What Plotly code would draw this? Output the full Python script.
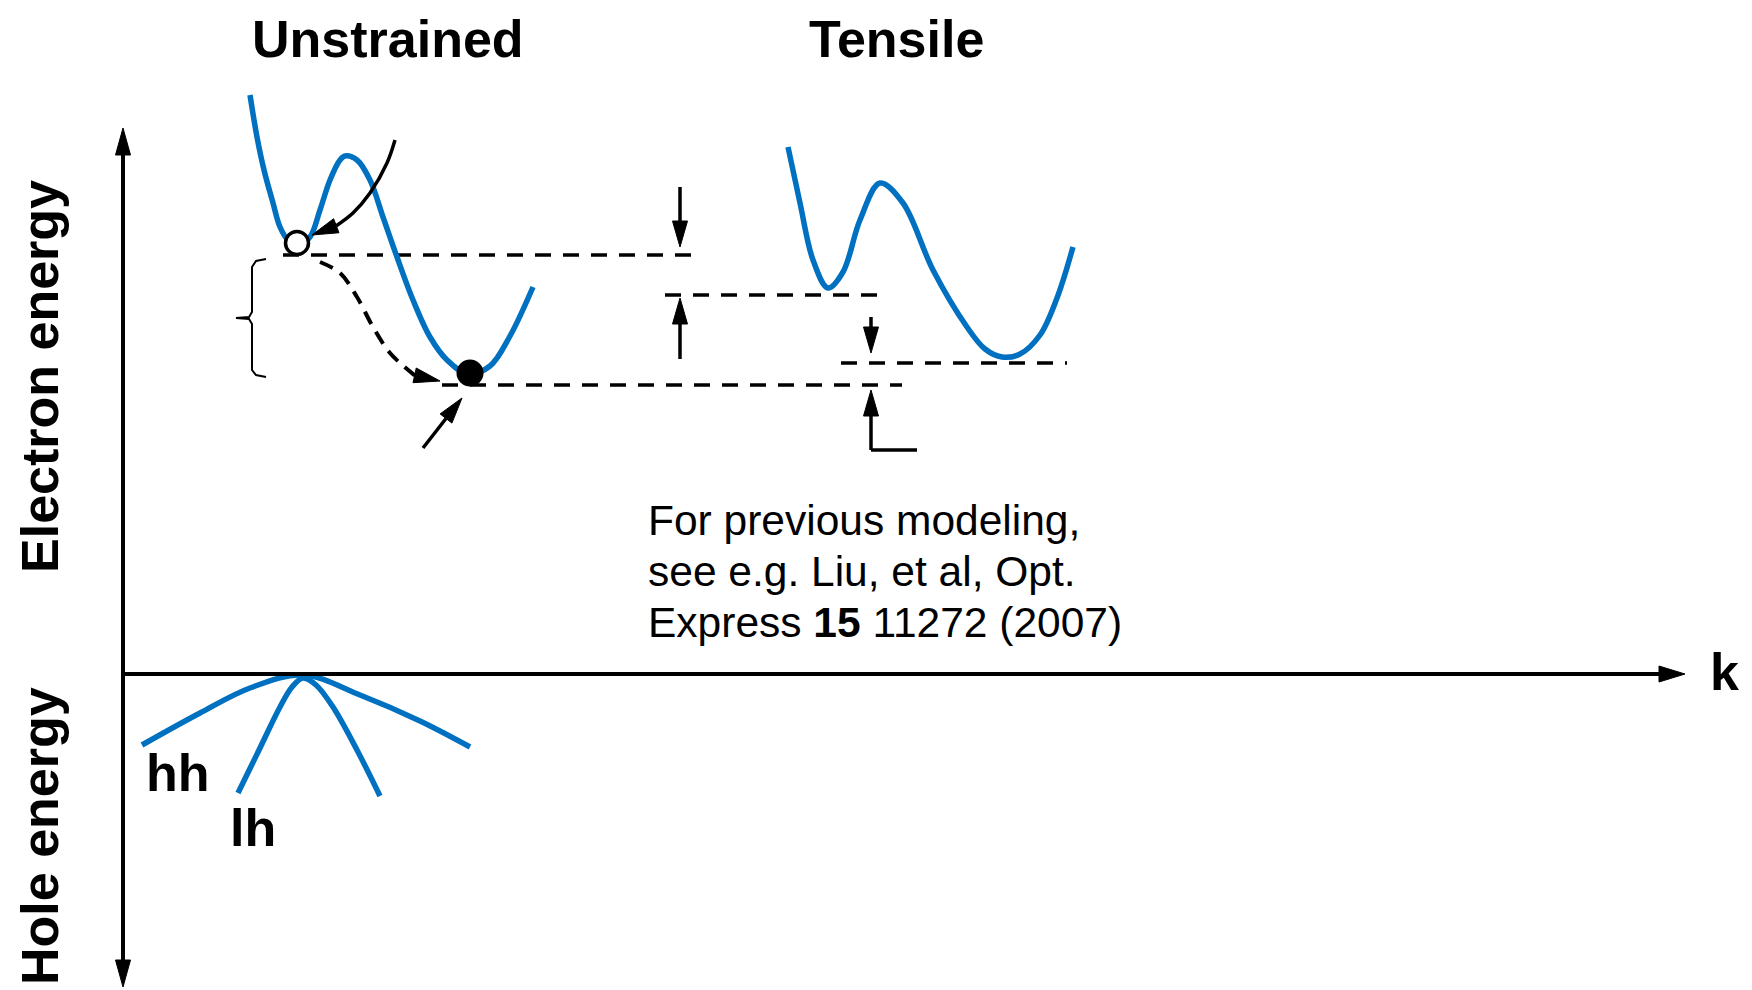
import numpy as np
import plotly.graph_objects as go

W, H = 1752, 990
PAD = 8  # the page body keeps an 8px margin, so the plot starts at (8, 8)
BLUE = "#0070c0"
FONT = "Liberation Sans, Arial, Helvetica, sans-serif"

# everything is in page pixels: x to the right, y downwards

# conduction band, unstrained
cb_unstr_x = [250, 257, 264, 273, 280, 288, 298, 310, 320, 330, 340, 345, 357, 370, 383, 397, 413, 430, 447, 468, 490, 510, 533]
cb_unstr_y = [95, 137, 170, 203, 227, 240, 245, 237, 210, 180, 160, 156, 160, 180, 217, 257, 300, 337, 360, 374, 366, 336, 287]

# conduction band, tensile
cb_tens_x = [788, 800, 813, 828, 843, 860, 880, 903, 933, 967, 985, 1002, 1020, 1040, 1057, 1073]
cb_tens_y = [147, 203, 260, 288, 272, 220, 183, 203, 270, 327, 349, 357, 354, 335, 298, 247]

# valence bands
hh_x = [142, 200, 250, 303, 360, 420, 470]
hh_y = [745, 713, 688, 675, 695, 721, 747]
lh_x = [238, 259, 280, 292, 303, 316, 333, 357, 380]
lh_y = [793, 750, 707, 687, 678, 685, 707, 750, 796]

# dashed energy levels
lvl_x0 = [283, 442, 665, 841]
lvl_x1 = [691, 902, 888, 1067]
lvl_y = [255, 385, 295, 363]

# straight arrows, tail -> tip
arr_x0 = [680, 680, 871, 871, 423]
arr_y0 = [187, 359, 317, 450, 448]
arr_x1 = [680, 680, 871, 871, 462]
arr_y1 = [247, 298, 353, 390, 398]

# foot of the lowest arrow
foot_x = [871, 917]
foot_y = [450, 450]

# curved arrows
curve_solid_x = [395, 387, 370, 353, 333, 312]
curve_solid_y = [140, 163, 193, 213, 227, 235]
curve_dash_x = [320, 340, 357, 373, 390, 413, 440]
curve_dash_y = [262, 273, 297, 327, 353, 375, 381]

# brace
brace_x = [266, 256, 252, 252, 249, 236, 249, 252, 252, 256, 266]
brace_y = [259, 261, 267, 312, 317, 318, 319, 324, 370, 375, 377]

# valleys (empty / filled electron)
empty_x, empty_y = [297], [243]
full_x, full_y = [470], [373]

# axes
vaxis_x = [123, 123]
vaxis_y = [987, 128]
haxis_x = [123, 1685]
haxis_y = [674, 674]

fig = go.Figure()


def line(x, y, color="black", width=3.5, dash=None, shape="linear"):
    fig.add_trace(go.Scatter(x=x, y=y, mode="lines", hoverinfo="skip",
                             line=dict(color=color, width=width, dash=dash, shape=shape)))


def head(x0, y0, x1, y1, length=26, half=7.5):
    d = np.hypot(x1 - x0, y1 - y0)
    ux, uy = (x1 - x0) / d, (y1 - y0) / d
    bx, by = x1 - ux * length, y1 - uy * length
    px, py = -uy * half, ux * half
    fig.add_trace(go.Scatter(x=[x1, bx + px, bx - px, x1], y=[y1, by + py, by - py, y1],
                             mode="lines", fill="toself", fillcolor="black",
                             line=dict(color="black", width=1), hoverinfo="skip"))
    return bx, by


def curved_arrow(xs, ys, dash=None, length=26, width=3.5):
    bx, by = head(xs[-2], ys[-2], xs[-1], ys[-1], length)
    keep = [(x, y) for x, y in zip(xs[:-1], ys[:-1]) if np.hypot(x - xs[-1], y - ys[-1]) > length + 4]
    px = [p[0] for p in keep] + [bx]
    py = [p[1] for p in keep] + [by]
    line(px, py, width=width, dash=dash, shape="spline")


# dashed levels
for x0, x1, y in zip(lvl_x0, lvl_x1, lvl_y):
    line([x0, x1], [y, y], width=3.5, dash="16px,12px")

# bands
line(cb_unstr_x, cb_unstr_y, BLUE, 5.5, shape="spline")
line(cb_tens_x, cb_tens_y, BLUE, 5.5, shape="spline")
line(hh_x, hh_y, BLUE, 5.5, shape="spline")
line(lh_x, lh_y, BLUE, 5.5, shape="spline")

# axes
bx, by = head(vaxis_x[0], vaxis_y[0], vaxis_x[1], vaxis_y[1], 27)
bx2, by2 = head(vaxis_x[1], vaxis_y[1], vaxis_x[0], vaxis_y[0], 27)
line([bx, bx2], [by, by2], width=4)
bx, by = head(haxis_x[0], haxis_y[0], haxis_x[1], haxis_y[1], 26, 8)
line([haxis_x[0], bx], [haxis_y[0], by], width=4)

# straight arrows
for x0, y0, x1, y1 in zip(arr_x0, arr_y0, arr_x1, arr_y1):
    bx, by = head(x0, y0, x1, y1)
    line([x0, bx], [y0, by], width=3.5)
line(foot_x, foot_y, width=3.5)

# curved arrows
curved_arrow(curve_solid_x, curve_solid_y)
curved_arrow(curve_dash_x, curve_dash_y, dash="14px,9px", width=4)

# brace
line(brace_x, brace_y, width=2)

# electrons
fig.add_trace(go.Scatter(x=empty_x, y=empty_y, mode="markers", hoverinfo="skip",
                         marker=dict(size=23, color="white", line=dict(color="black", width=3.5))))
fig.add_trace(go.Scatter(x=full_x, y=full_y, mode="markers", hoverinfo="skip",
                         marker=dict(size=27, color="black")))

bold = dict(family=FONT, size=52, color="black")
reg = dict(family=FONT, size=42.5, color="black")
labels = [
    ("<b>Unstrained</b>", 388, 8, 0, "top"),
    ("<b>Tensile</b>", 896, 8, 0, "top"),
    ("<b>k</b>", 1724, 672, 0, "middle"),
    ("<b>hh</b>", 178, 773, 0, "middle"),
    ("<b>lh</b>", 253, 828, 0, "middle"),
    ("<b>Electron energy</b>", 40, 377, -90, "middle"),
    ("<b>Hole energy</b>", 40, 836, -90, "middle"),
]
for txt, x, y, ang, ya in labels:
    fig.add_annotation(text=txt, x=x, y=y, xref="x", yref="y", showarrow=False,
                       xanchor="center", yanchor=ya, textangle=ang, font=bold)

note = [
    "For previous modeling,",
    "see e.g. Liu, et al, Opt.",
    "Express <b>15</b> 11272 (2007)",
]
note_y = [520, 571, 622]
for txt, y in zip(note, note_y):
    fig.add_annotation(text=txt, x=646, y=y, xref="x", yref="y", showarrow=False,
                       xanchor="left", yanchor="middle", font=reg)

fig.update_layout(
    width=W - PAD, height=H - PAD,
    margin=dict(l=0, r=0, t=0, b=0),
    showlegend=False,
    plot_bgcolor="white", paper_bgcolor="white",
    xaxis=dict(range=[PAD, W], visible=False, fixedrange=True),
    yaxis=dict(range=[H, PAD], visible=False, fixedrange=True),
)

fig.write_html("out.html")
